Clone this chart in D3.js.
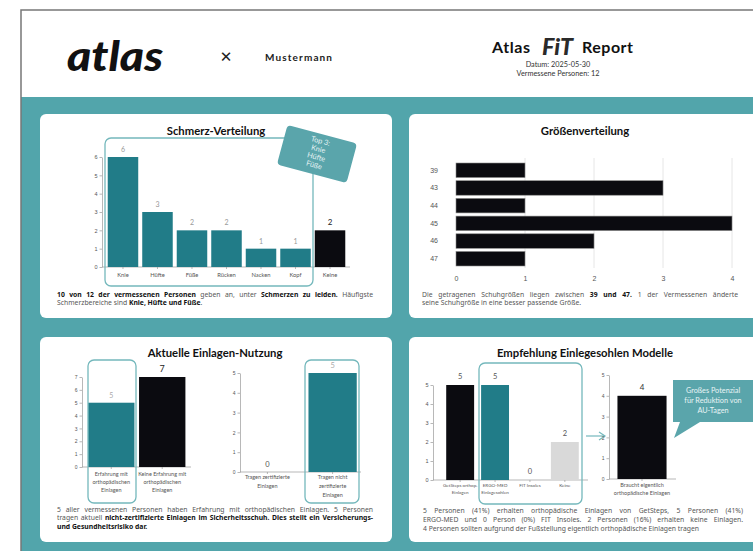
<!DOCTYPE html>
<html>
<head>
<meta charset="utf-8">
<title>Atlas FIT Report</title>
<script src="https://cdn.jsdelivr.net/npm/d3@7"></script>
<style>
  body { margin: 0; background: #fff; }
  svg { display: block; font-family: "Lato", "Open Sans", sans-serif; }
  .title { font-size: 11.3px; font-weight: 700; fill: #111; text-anchor: middle; }
  .para { font-family: "Noto Sans", sans-serif; font-size: 6.8px; fill: #555; }
  .para .b { font-weight: 700; fill: #111; }
  .axis path, .axis line { stroke: #999; stroke-width: 0.7; }
  .axis text { fill: #555; }
</style>
</head>
<body>
<script>
// ---- data ----
var painCategories = ["Knie", "Hüfte", "Füße", "Rücken", "Nacken", "Kopf", "Keine"];
var painValues = [6, 3, 2, 2, 1, 1, 2];

var sizeCategories = ["39", "43", "44", "45", "46", "47"];
var sizeCounts = [1, 3, 1, 4, 2, 1];

var experienceCategories = ["Erfahrung mit orthopädischen Einlagen", "Keine Erfahrung mit orthopädischen Einlagen"];
var experienceLabels = [["Erfahrung mit", "orthopädischen", "Einlagen"], ["Keine Erfahrung mit", "orthopädischen", "Einlagen"]];
var experienceValues = [5, 7];

var certCategories = ["Tragen zertifizierte Einlagen", "Tragen nicht zertifizierte Einlagen"];
var certLabels = [["Tragen zertifizierte", "Einlagen"], ["Tragen nicht", "zertifizierte", "Einlagen"]];
var certValues = [0, 5];

var modelCategories = ["GetSteps orthop. Einlagen", "ERGO-MED Einlagesohlen", "FIT Insoles", "Keine"];
var modelLabels = [["GetSteps orthop.", "Einlagen"], ["ERGO-MED", "Einlagesohlen"], ["FIT Insoles"], ["Keine"]];
var modelValues = [5, 5, 0, 2];

var needCategories = ["Braucht eigentlich orthopädische Einlagen"];
var needLabels = [["Braucht eigentlich", "orthopädische Einlagen"]];
var needValues = [4];

// ---- colours ----
var teal = "#217c88", bgTeal = "#52a5ab", calloutTeal = "#5aa5ab", outline = "#74b8bc", black = "#0b0b10";

var W = 753, H = 551;
var svg = d3.select("body").append("svg").attr("width", W).attr("height", H);

// page
svg.append("rect").attr("x", 21).attr("y", 97).attr("width", W - 21).attr("height", H - 97).attr("fill", bgTeal);
svg.append("path").attr("d", "M21," + H + "V10H" + W).attr("fill", "none").attr("stroke", "#777").attr("stroke-width", 1.5);

// header
svg.append("text").attr("x", 67).attr("y", 71).attr("textLength", 96).attr("lengthAdjust", "spacingAndGlyphs")
  .style("font-size", "41px").style("font-weight", 900).style("font-style", "italic").attr("fill", "#111").text("atlas");
svg.append("text").attr("x", 226).attr("y", 62).attr("text-anchor", "middle")
  .style("font-family", "DejaVu Sans").style("font-size", "15px").style("font-weight", 700).attr("fill", "#222").text("✕");
svg.append("text").attr("x", 265).attr("y", 61).attr("textLength", 67)
  .style("font-size", "10px").style("font-weight", 700).attr("fill", "#222").text("Mustermann");

svg.append("text").attr("x", 492).attr("y", 53).attr("textLength", 38)
  .style("font-size", "16px").style("font-weight", 700).attr("fill", "#111").text("Atlas");
svg.append("text").attr("x", 542).attr("y", 55).attr("textLength", 31).attr("lengthAdjust", "spacingAndGlyphs")
  .style("font-size", "22px").style("font-weight", 900).style("font-style", "italic").attr("fill", "#2a2a2a").text("FiT");
svg.append("text").attr("x", 582).attr("y", 53).attr("textLength", 51)
  .style("font-size", "16px").style("font-weight", 700).attr("fill", "#111").text("Report");
svg.append("text").attr("x", 558).attr("y", 67).attr("text-anchor", "middle")
  .style("font-size", "7.3px").attr("fill", "#333").text("Datum: 2025-05-30");
svg.append("text").attr("x", 558).attr("y", 75.5).attr("text-anchor", "middle")
  .style("font-size", "7.3px").attr("fill", "#333").text("Vermessene Personen: 12");

// cards
[[40, 114, 204], [409, 114, 204], [40, 337, 205], [409, 337, 205]].forEach(function(c) {
  svg.append("rect").attr("x", c[0]).attr("y", c[1]).attr("width", 352).attr("height", c[2])
    .attr("rx", 6).attr("fill", "#fff");
});

function title(x, y, t) {
  svg.append("text").attr("class", "title").attr("x", x).attr("y", y).text(t);
}
title(216, 135, "Schmerz-Verteilung");
title(585, 135, "Größenverteilung");
title(215, 357, "Aktuelle Einlagen-Nutzung");
title(585, 357, "Empfehlung Einlegesohlen Modelle");

// paragraph helper: each line is a list of [text, bold]; justified lines get word spacing
function para(x0, x1, y0, lh, lines) {
  lines.forEach(function(line, i) {
    var t = svg.append("text").attr("class", "para").attr("x", x0).attr("y", y0 + i * lh);
    line.segs.forEach(function(s) {
      t.append("tspan").attr("class", s[1] ? "b" : null).text(s[0]);
    });
    if (line.justify) {
      var full = line.segs.map(function(s) { return s[0]; }).join("");
      var gaps = (full.match(/ /g) || []).length;
      var natural = t.node().getComputedTextLength();
      if (gaps > 0) t.style("word-spacing", ((x1 - x0 - natural) / gaps) + "px");
    }
  });
}

function highlight(x0, y0, x1, y1) {
  svg.append("rect").attr("x", x0).attr("y", y0).attr("width", x1 - x0).attr("height", y1 - y0)
    .attr("rx", 6).attr("fill", "none").attr("stroke", outline).attr("stroke-width", 1.3);
}

// vertical bar chart helper
function columns(cfg) {
  var x = d3.scaleBand().domain(cfg.cats).range(cfg.xRange).paddingInner(cfg.pi).paddingOuter(cfg.po);
  var y = d3.scaleLinear().domain([0, cfg.yMax]).range(cfg.yRange);
  var g = svg.append("g");

  g.append("g").attr("class", "axis").attr("transform", "translate(" + cfg.axisX + ",0)")
    .call(d3.axisLeft(y).ticks(cfg.yMax).tickSize(2.5).tickPadding(2).tickSizeOuter(0))
    .selectAll("text").style("font-size", cfg.tickSize + "px");
  g.append("line").attr("x1", cfg.axisX).attr("x2", cfg.axisEnd).attr("y1", y(0)).attr("y2", y(0))
    .attr("stroke", "#999").attr("stroke-width", 0.7);
  g.selectAll(".xt").data(cfg.cats).enter().append("line")
    .attr("x1", function(d) { return x(d) + x.bandwidth() / 2; })
    .attr("x2", function(d) { return x(d) + x.bandwidth() / 2; })
    .attr("y1", y(0)).attr("y2", y(0) + 2).attr("stroke", "#999").attr("stroke-width", 0.7);

  g.selectAll(".bar").data(cfg.vals).enter().append("rect")
    .attr("x", function(d, i) { return x(cfg.cats[i]); })
    .attr("y", function(d) { return y(d); })
    .attr("width", x.bandwidth())
    .attr("height", function(d) { return y(0) - y(d); })
    .attr("fill", function(d, i) { return cfg.color(cfg.cats[i]); });

  g.selectAll(".val").data(cfg.vals).enter().append("text")
    .attr("x", function(d, i) { return x(cfg.cats[i]) + x.bandwidth() / 2; })
    .attr("y", function(d) { return y(d) - cfg.valGap; })
    .attr("text-anchor", "middle")
    .style("font-size", function(d, i) { return cfg.valSize(cfg.cats[i]) + "px"; })
    .attr("fill", function(d, i) { return cfg.valColor(cfg.cats[i]); })
    .text(function(d) { return d; });

  cfg.labels.forEach(function(lines, i) {
    var cx = x(cfg.cats[i]) + x.bandwidth() / 2;
    lines.forEach(function(l, j) {
      g.append("text").attr("x", cx).attr("y", y(0) + cfg.labelTop + j * cfg.labelLh)
        .attr("text-anchor", "middle").style("font-size", cfg.labelSize + "px").attr("fill", "#555").text(l);
    });
  });
  return { x: x, y: y };
}

// ---- Schmerz-Verteilung ----
columns({
  cats: painCategories, vals: painValues, labels: painCategories.map(function(d) { return [d]; }),
  xRange: [106, 347], pi: 0.116, po: 0.05, yMax: 6, yRange: [267, 157],
  axisX: 102, axisEnd: 350, tickSize: 5.5,
  color: function(c) { return c === "Keine" ? black : teal; },
  valGap: 5, valSize: function(c) { return c === "Keine" ? 8 : 7; },
  valColor: function(c) { return c === "Keine" ? "#222" : "#999"; },
  labelTop: 10, labelLh: 7, labelSize: 5.8
});
highlight(105, 138, 313, 286);

// rotated callout
var co = svg.append("g").attr("transform", "translate(317,154) rotate(15)");
co.append("rect").attr("x", -36).attr("y", -20.5).attr("width", 72).attr("height", 41).attr("rx", 4).attr("fill", calloutTeal);
["Top 3:", "Knie", "Hüfte", "Füße"].forEach(function(t, i) {
  co.append("text").attr("x", 0).attr("y", -11 + i * 8.3).attr("text-anchor", "middle")
    .style("font-size", "7.3px").attr("fill", "#e4f2f3").text(t);
});

para(57, 373, 297, 8.3, [
  { justify: true, segs: [["10 von 12 der vermessenen Personen", 1], [" geben an, unter ", 0], ["Schmerzen zu leiden.", 1], [" Häufigste", 0]] },
  { segs: [["Schmerzbereiche sind ", 0], ["Knie, Hüfte und Füße", 1], [".", 0]] }
]);

// ---- Größenverteilung ----
(function() {
  var x = d3.scaleLinear().domain([0, 4]).range([456, 732]);
  var y = d3.scaleBand().domain(sizeCategories).range([157.7, 271.3]).paddingInner(0.18).paddingOuter(0.3);
  var g = svg.append("g");
  g.selectAll(".grid").data(x.ticks(4).slice(1)).enter().append("line")
    .attr("x1", function(d) { return x(d); }).attr("x2", function(d) { return x(d); })
    .attr("y1", 158).attr("y2", 268).attr("stroke", "#e6e6e6").attr("stroke-width", 1);
  var ax = g.append("g").attr("class", "axis").attr("transform", "translate(0,271)")
    .call(d3.axisBottom(x).ticks(4).tickSize(0).tickPadding(5));
  ax.select(".domain").remove();
  ax.selectAll("text").style("font-size", "7px").attr("fill", "#777");
  var ay = g.append("g").attr("class", "axis").attr("transform", "translate(452,0)")
    .call(d3.axisLeft(y).tickSize(0).tickPadding(14));
  ay.select(".domain").remove();
  ay.selectAll("text").style("font-size", "7px").attr("fill", "#777");
  g.selectAll(".bar").data(sizeCounts).enter().append("rect")
    .attr("x", x(0)).attr("y", function(d, i) { return y(sizeCategories[i]); })
    .attr("width", function(d) { return x(d) - x(0); }).attr("height", y.bandwidth())
    .attr("fill", black).attr("stroke", "#888").attr("stroke-width", 0.6);
})();

para(422, 738, 297, 8.3, [
  { justify: true, segs: [["Die getragenen Schuhgrößen liegen zwischen ", 0], ["39 und 47.", 1], [" 1 der Vermessenen änderte", 0]] },
  { segs: [["seine Schuhgröße in eine besser passende Größe.", 0]] }
]);

// ---- Aktuelle Einlagen-Nutzung ----
columns({
  cats: experienceCategories, vals: experienceValues, labels: experienceLabels,
  xRange: [83, 190.5], pi: 0.09, po: 0.1, yMax: 7, yRange: [467, 377],
  axisX: 82, axisEnd: 191, tickSize: 5,
  color: function(c) { return c.indexOf("Keine") === 0 ? black : teal; },
  valGap: 5, valSize: function(c) { return c.indexOf("Keine") === 0 ? 9 : 7; },
  valColor: function(c) { return c.indexOf("Keine") === 0 ? "#222" : "#aaa"; },
  labelTop: 9, labelLh: 8, labelSize: 5.5
});
highlight(88, 360, 136, 503);

columns({
  cats: certCategories, vals: certValues, labels: certLabels,
  xRange: [240, 360], pi: 0.26, po: 0.05, yMax: 5, yRange: [472, 373],
  axisX: 240, axisEnd: 361, tickSize: 5,
  color: function(c) { return teal; },
  valGap: 5, valSize: function(c) { return 7.5; },
  valColor: function(c) { return c.indexOf("nicht") > 0 ? "#aaa" : "#555"; },
  labelTop: 7, labelLh: 9, labelSize: 5.5
});
highlight(305, 360, 359, 503);

para(57, 373, 512, 8.3, [
  { justify: true, segs: [["5 aller vermessenen Personen haben Erfahrung mit orthopädischen Einlagen. 5 Personen", 0]] },
  { justify: true, segs: [["tragen aktuell ", 0], ["nicht-zertifizierte Einlagen im Sicherheitsschuh. Dies stellt ein Versicherungs-", 1]] },
  { segs: [["und Gesundheitsrisiko dar.", 1]] }
]);

// ---- Empfehlung Einlegesohlen Modelle ----
columns({
  cats: modelCategories, vals: modelValues, labels: modelLabels,
  xRange: [434, 591], pi: 0.2, po: 0.35, yMax: 5, yRange: [480, 385],
  axisX: 433, axisEnd: 588, tickSize: 5.5,
  color: function(c) { return c === "Keine" ? "#d9d9d9" : (c.indexOf("ERGO") === 0 ? teal : black); },
  valGap: 6, valSize: function(c) { return 7.5; },
  valColor: function(c) { return "#555"; },
  labelTop: 7, labelLh: 6.5, labelSize: 4.6
});
highlight(479, 363, 582, 504);

// arrow
svg.append("line").attr("x1", 586).attr("x2", 604).attr("y1", 436).attr("y2", 436)
  .attr("stroke", outline).attr("stroke-width", 1.2);
svg.append("path").attr("d", "M599,432L605,436L599,440").attr("fill", "none").attr("stroke", outline).attr("stroke-width", 1.2);

columns({
  cats: needCategories, vals: needValues, labels: needLabels,
  xRange: [612, 672], pi: 0.1, po: 0.1, yMax: 5, yRange: [479, 375],
  axisX: 609, axisEnd: 676, tickSize: 5,
  color: function(c) { return black; },
  valGap: 6, valSize: function(c) { return 8; },
  valColor: function(c) { return "#333"; },
  labelTop: 8, labelLh: 8, labelSize: 5.5
});

// speech callout
svg.append("path").attr("d", "M673,380H758V422H700L674,438L680,422H673Z").attr("fill", calloutTeal);
["Großes Potenzial", "für Reduktion von", "AU-Tagen"].forEach(function(t, i) {
  svg.append("text").attr("x", 713).attr("y", 393 + i * 10).attr("text-anchor", "middle")
    .style("font-size", "7.3px").attr("fill", "#e8f4f5").text(t);
});

para(423, 743, 513, 8.8, [
  { justify: true, segs: [["5 Personen (41%) erhalten orthopädische Einlagen von GetSteps, 5 Personen (41%)", 0]] },
  { justify: true, segs: [["ERGO-MED und 0 Person (0%) FIT Insoles. 2 Personen (16%) erhalten keine Einlagen.", 0]] },
  { segs: [["4 Personen sollten aufgrund der Fußstellung eigentlich orthopädische Einlagen tragen", 0]] }
]);
</script>
</body>
</html>
